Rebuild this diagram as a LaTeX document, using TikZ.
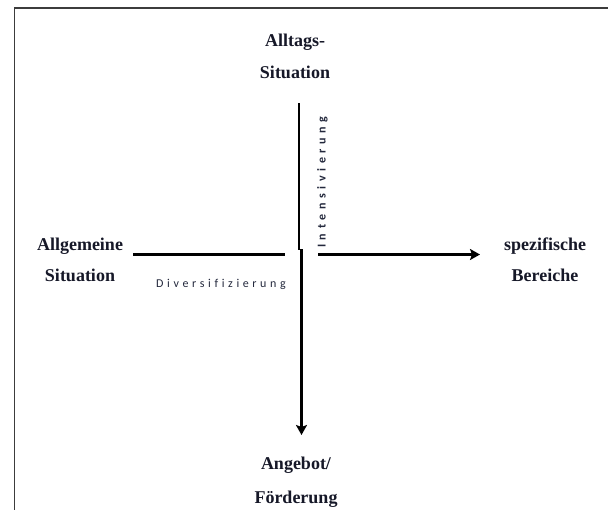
\documentclass[tikz,border=0pt]{standalone}
\usepackage{fontspec}
\setmainfont{Liberation Serif}
\newfontfamily\calib{Carlito}
\usetikzlibrary{arrows.meta}
\newlength\lspgap
\def\mylsp#1{\ifx#1\relax\else#1\hspace{\lspgap}\expandafter\mylsp\fi}
\definecolor{txt}{RGB}{22,24,40}
\definecolor{smalltxt}{RGB}{35,40,60}
\definecolor{framec}{RGB}{60,60,60}
\begin{document}
\begin{tikzpicture}[x=1pt,y=-1pt,
  lbl/.style={anchor=base,inner sep=0pt,text=txt,font=\bfseries\fontsize{18}{20}\selectfont},
  axis/.style={line width=3pt,draw=black},
  arr/.style={axis,-{Stealth[length=10pt,width=11pt,inset=2pt]}},
  thin/.style={line width=1.2pt,draw=black},
  small/.style={inner sep=0pt,text=smalltxt}]
\useasboundingbox (0,0) rectangle (608,509);
\fill[white] (0,0) rectangle (608,509);
% frame
\draw[framec,line width=1.4pt] (14.5,520) -- (14.5,8) -- (620,8);
% labels
\node[lbl] (alltagsA) at (295,46) {Alltags-};
\node[lbl] (alltagsB) at (295,78) {Situation};
\node[lbl] (allgA) at (80,250) {Allgemeine};
\node[lbl] (allgB) at (80,281) {Situation};
\node[lbl] (spezA) at (545,250) {spezifische};
\node[lbl] (spezB) at (545,281) {Bereiche};
\node[lbl] (angA) at (296,469) {Angebot/};
\node[lbl] (angB) at (296,503) {Förderung};
% axes
\coordinate (vtop) at (299,103);
\coordinate (vmid) at (299,250);
\coordinate (dtop) at (301.5,249);
\coordinate (dbot) at (301.5,435);
\coordinate (lleft) at (133,254.5);
\coordinate (lright) at (285,254.5);
\coordinate (rleft) at (318,254.5);
\coordinate (rright) at (480,254.5);
\draw[thin] (vtop) -- (vmid);
\draw[arr] (dtop) -- (dbot);
\draw[axis] (lleft) -- (lright);
\draw[arr] (rleft) -- (rright);
% axis labels
\node[small,anchor=base west,font=\calib\fontsize{12}{13}\selectfont] (div) at (156,287.5)
  {\setlength\lspgap{3.6pt}\mylsp Diversifizierung\relax};
\node[small,anchor=base west,rotate=90,font=\calib\bfseries\fontsize{12}{13}\selectfont] (int) at (325.5,248)
  {\setlength\lspgap{4.6pt}\mylsp Intensivierung\relax};
\end{tikzpicture}
\end{document}
